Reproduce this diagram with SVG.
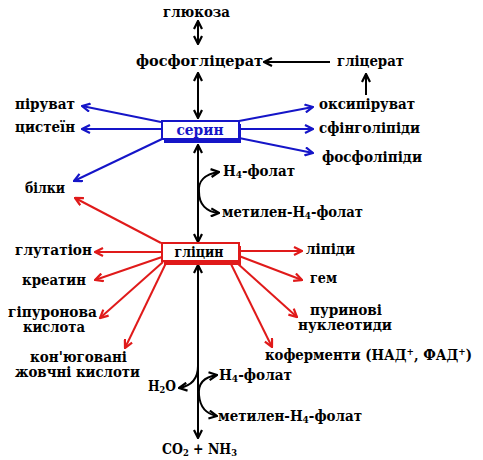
<svg xmlns="http://www.w3.org/2000/svg" width="483" height="460" viewBox="0 0 483 460">
<defs>
<style>
text{font-family:"DejaVu Serif","Liberation Serif",serif;font-weight:bold;font-size:15px;fill:#000}
.ln{fill:none;stroke-width:2}
.k{stroke:#000}
.b{stroke:#1515c8}
.r{stroke:#e01a1a}
.sb{font-size:10px}
</style>
<marker id="ak" viewBox="0 0 10 10" refX="9" refY="5" markerWidth="10" markerHeight="10" markerUnits="userSpaceOnUse" orient="auto-start-reverse"><path d="M1,1 L9,5 L1,9" fill="none" stroke="#000" stroke-width="2.2"/></marker>
<marker id="ab" viewBox="0 0 10 10" refX="9" refY="5" markerWidth="10" markerHeight="10" markerUnits="userSpaceOnUse" orient="auto-start-reverse"><path d="M1,1 L9,5 L1,9" fill="none" stroke="#1515c8" stroke-width="2.2"/></marker>
<marker id="ar" viewBox="0 0 10 10" refX="9" refY="5" markerWidth="10" markerHeight="10" markerUnits="userSpaceOnUse" orient="auto-start-reverse"><path d="M1,1 L9,5 L1,9" fill="none" stroke="#e01a1a" stroke-width="2.2"/></marker>
</defs>

<g id="connectors">
<!-- black -->
<line class="ln k" x1="198" y1="21" x2="198" y2="44" marker-start="url(#ak)" marker-end="url(#ak)"/>
<line class="ln k" x1="198" y1="73" x2="198" y2="118" marker-start="url(#ak)" marker-end="url(#ak)"/>
<line class="ln k" x1="198" y1="145" x2="198" y2="242" marker-start="url(#ak)" marker-end="url(#ak)"/>
<line class="ln k" x1="198" y1="265" x2="198" y2="438" marker-start="url(#ak)" marker-end="url(#ak)"/>
<line class="ln k" x1="330" y1="62" x2="264" y2="62" marker-end="url(#ak)"/>
<line class="ln k" x1="366" y1="95" x2="366" y2="74" marker-end="url(#ak)"/>
<path class="ln k" d="M219,172 C204,174 198,182 199,192 C199,204 206,212 219,213" marker-start="url(#ak)" marker-end="url(#ak)"/>
<path class="ln k" d="M198,366 C198,380 191,386 179,388" marker-end="url(#ak)"/>
<path class="ln k" d="M217,375 C203,377 198,385 199,395 C200,407 206,414 217,416" marker-start="url(#ak)" marker-end="url(#ak)"/>
<!-- blue -->
<line class="ln b" x1="161" y1="122" x2="82" y2="106" marker-end="url(#ab)"/>
<line class="ln b" x1="161" y1="129" x2="82" y2="129" marker-end="url(#ab)"/>
<line class="ln b" x1="162" y1="139" x2="74" y2="181" marker-end="url(#ab)"/>
<line class="ln b" x1="239" y1="121" x2="313" y2="107" marker-end="url(#ab)"/>
<line class="ln b" x1="239" y1="129" x2="313" y2="129" marker-end="url(#ab)"/>
<line class="ln b" x1="239" y1="138" x2="313" y2="153" marker-end="url(#ab)"/>
<!-- red -->
<line class="ln r" x1="161" y1="243" x2="75" y2="198" marker-end="url(#ar)"/>
<line class="ln r" x1="161" y1="252" x2="95" y2="252" marker-end="url(#ar)"/>
<line class="ln r" x1="162" y1="257" x2="95" y2="280" marker-end="url(#ar)"/>
<line class="ln r" x1="163" y1="262" x2="100" y2="318" marker-end="url(#ar)"/>
<line class="ln r" x1="166" y1="263" x2="125" y2="348" marker-end="url(#ar)"/>
<line class="ln r" x1="239" y1="251" x2="302" y2="251" marker-end="url(#ar)"/>
<line class="ln r" x1="239" y1="256" x2="302" y2="280" marker-end="url(#ar)"/>
<line class="ln r" x1="237" y1="263" x2="297" y2="317" marker-end="url(#ar)"/>
<line class="ln r" x1="231" y1="264" x2="272" y2="347" marker-end="url(#ar)"/>
</g>

<g id="serine">
<rect x="164" y="124" width="77" height="19" fill="#1515c8"/>
<rect x="162" y="121" width="77" height="18" fill="#fff" stroke="#1515c8" stroke-width="2"/>
<text x="200" y="135" text-anchor="middle" style="fill:#1515c8" textLength="47" lengthAdjust="spacingAndGlyphs">серин</text>
</g>
<g id="glycine">
<rect x="164" y="246" width="77" height="19" fill="#e01a1a"/>
<rect x="162" y="243" width="77" height="18" fill="#fff" stroke="#e01a1a" stroke-width="2"/>
<text x="199" y="257" text-anchor="middle" textLength="49" lengthAdjust="spacingAndGlyphs">гліцин</text>
</g>

<g id="glucose"><text x="163" y="17" textLength="67" lengthAdjust="spacingAndGlyphs">глюкоза</text></g>
<g id="phosphoglycerate"><text x="136" y="66" textLength="127" lengthAdjust="spacingAndGlyphs">фосфогліцерат</text></g>
<g id="glycerate"><text x="337" y="66" textLength="67" lengthAdjust="spacingAndGlyphs">гліцерат</text></g>
<g id="pyruvate"><text x="15" y="109" textLength="60" lengthAdjust="spacingAndGlyphs">піруват</text></g>
<g id="cysteine"><text x="15" y="132" textLength="60" lengthAdjust="spacingAndGlyphs">цистеїн</text></g>
<g id="hydroxypyruvate"><text x="319" y="109" textLength="96" lengthAdjust="spacingAndGlyphs">оксипіруват</text></g>
<g id="sphingolipids"><text x="319" y="133" textLength="101" lengthAdjust="spacingAndGlyphs">сфінголіпіди</text></g>
<g id="phospholipids"><text x="322" y="162" textLength="100" lengthAdjust="spacingAndGlyphs">фосфоліпіди</text></g>
<g id="h4folate1"><text x="223" y="176" textLength="72" lengthAdjust="spacingAndGlyphs">H<tspan class="sb" dy="2">4</tspan><tspan dy="-2">-фолат</tspan></text></g>
<g id="methylene1"><text x="222" y="217" textLength="141" lengthAdjust="spacingAndGlyphs">метилен-H<tspan class="sb" dy="2">4</tspan><tspan dy="-2">-фолат</tspan></text></g>
<g id="proteins"><text x="25" y="193" textLength="40" lengthAdjust="spacingAndGlyphs">білки</text></g>
<g id="glutathione"><text x="15" y="255" textLength="77" lengthAdjust="spacingAndGlyphs">глутатіон</text></g>
<g id="lipids"><text x="306" y="254" textLength="49" lengthAdjust="spacingAndGlyphs">ліпіди</text></g>
<g id="creatine"><text x="22" y="285" textLength="64" lengthAdjust="spacingAndGlyphs">креатин</text></g>
<g id="heme"><text x="310" y="283" textLength="27" lengthAdjust="spacingAndGlyphs">гем</text></g>
<g id="hippuric"><text x="8" y="317" textLength="89" lengthAdjust="spacingAndGlyphs">гіпуронова</text><text x="23" y="332" textLength="62" lengthAdjust="spacingAndGlyphs">кислота</text></g>
<g id="purines"><text x="310" y="315" textLength="72" lengthAdjust="spacingAndGlyphs">пуринові</text><text x="298" y="330" textLength="94" lengthAdjust="spacingAndGlyphs">нуклеотиди</text></g>
<g id="bileacids"><text x="30" y="362" textLength="97" lengthAdjust="spacingAndGlyphs">кон'юговані</text><text x="15" y="377" textLength="125" lengthAdjust="spacingAndGlyphs">жовчні кислоти</text></g>
<g id="coenzymes"><text x="265" y="360" textLength="207" lengthAdjust="spacingAndGlyphs">коферменти (НАД<tspan class="sb" dy="-5">+</tspan><tspan dy="5">, ФАД</tspan><tspan class="sb" dy="-5">+</tspan><tspan dy="5">)</tspan></text></g>
<g id="water"><text x="148" y="391" textLength="28" lengthAdjust="spacingAndGlyphs">H<tspan class="sb" dy="2">2</tspan><tspan dy="-2">O</tspan></text></g>
<g id="h4folate2"><text x="219" y="380" textLength="73" lengthAdjust="spacingAndGlyphs">H<tspan class="sb" dy="2">4</tspan><tspan dy="-2">-фолат</tspan></text></g>
<g id="methylene2"><text x="218" y="421" textLength="144" lengthAdjust="spacingAndGlyphs">метилен-H<tspan class="sb" dy="2">4</tspan><tspan dy="-2">-фолат</tspan></text></g>
<g id="co2nh3"><text x="162" y="454" textLength="75" lengthAdjust="spacingAndGlyphs">CO<tspan class="sb" dy="2">2</tspan><tspan dy="-2"> + NH</tspan><tspan class="sb" dy="2">3</tspan></text></g>
</svg>
